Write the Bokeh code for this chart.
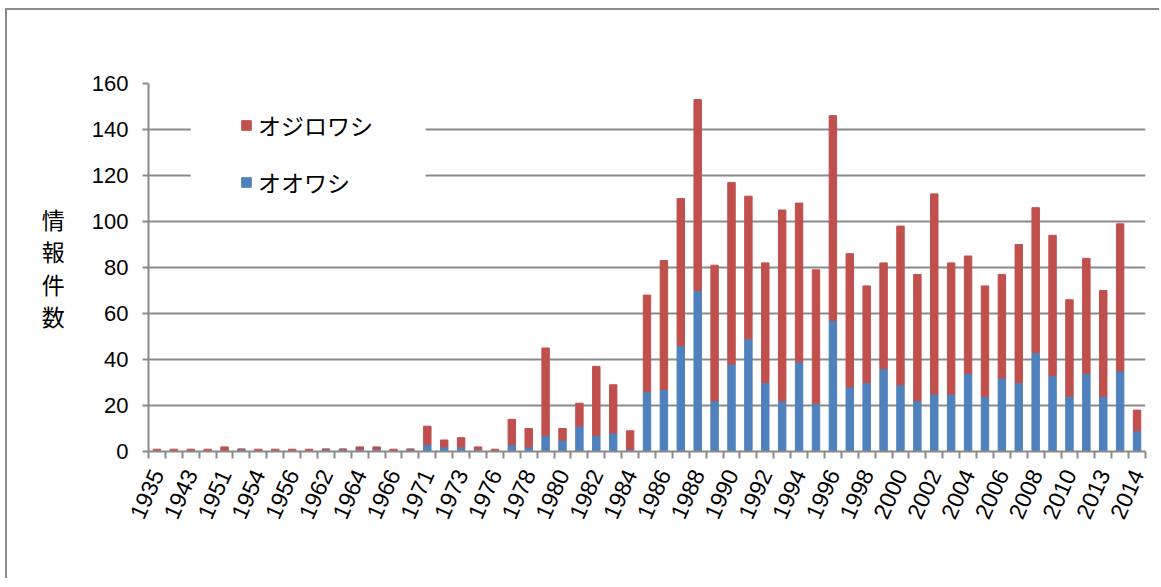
from bokeh.plotting import figure
from bokeh.models import (ColumnDataSource, FixedTicker, Legend, LegendItem,
                          BoxAnnotation)
from bokeh.embed import file_html
from bokeh.resources import INLINE

# ---- data -------------------------------------------------------------
years = ["1935", "1942", "1943", "1950", "1951", "1953", "1954", "1955",
         "1956", "1961", "1962", "1963", "1964", "1965", "1966", "1970",
         "1971", "1972", "1973", "1975", "1976", "1977", "1978", "1979",
         "1980", "1981", "1982", "1983", "1984", "1985", "1986", "1987",
         "1988", "1989", "1990", "1991", "1992", "1993", "1994", "1995",
         "1996", "1997", "1998", "1999", "2000", "2001", "2002", "2003",
         "2004", "2005", "2006", "2007", "2008", "2009", "2010", "2011",
         "2013", "2013", "2014"]

# オオワシ (Steller's sea eagle)
oowashi = [0, 0, 0, 0, 0, 1, 0, 0, 0, 0, 1, 1, 1, 1, 0, 1,
           3, 2, 2, 1, 0, 3, 2, 7, 5, 11, 7, 8, 1, 26, 27, 46,
           70, 22, 38, 49, 30, 22, 39, 21, 57, 28, 30, 36, 29, 22, 25, 25,
           34, 24, 32, 30, 43, 33, 24, 34, 24, 35, 9]

# total reports per year
totals = [1, 1, 1, 1, 2, 1, 1, 1, 1, 1, 1, 1, 2, 2, 1, 1,
          11, 5, 6, 2, 1, 14, 10, 45, 10, 21, 37, 29, 9, 68, 83, 110,
          153, 81, 117, 111, 82, 105, 108, 79, 146, 86, 72, 82, 98, 77, 112, 82,
          85, 72, 77, 90, 106, 94, 66, 84, 70, 99, 18]

# オジロワシ (white-tailed eagle)
ojirowashi = [t - b for t, b in zip(totals, oowashi)]

y_ticks = [0, 20, 40, 60, 80, 100, 120, 140, 160]

# ---- figure -----------------------------------------------------------
RED = "#C0504D"
BLUE = "#4F81BD"
GRID = "#8A8A8A"

xs = list(range(1, len(years) + 1))
src = ColumnDataSource(dict(x=xs, oowashi=oowashi, ojirowashi=ojirowashi))

p = figure(width=1154, height=570, x_range=(0.5, len(years) + 0.5),
           y_range=(0, 160), output_backend="svg", toolbar_location=None,
           min_border_left=141, min_border_right=16, min_border_top=73,
           min_border_bottom=129,
           styles={"margin-left": "5px", "margin-top": "8px",
                   "border-left": "2px solid #8A8A8A",
                   "border-top": "2px solid #8A8A8A"})
p.outline_line_color = None
p.background_fill_color = "white"
p.border_fill_color = "white"

rs = p.vbar_stack(["oowashi", "ojirowashi"], x="x", width=0.44,
                  color=[BLUE, RED], source=src)

# y axis
p.yaxis.ticker = FixedTicker(ticks=y_ticks)
p.yaxis.axis_line_color = GRID
p.yaxis.axis_line_width = 2
p.yaxis.major_tick_line_color = GRID
p.yaxis.major_tick_line_width = 2
p.yaxis.major_tick_out = 6
p.yaxis.major_tick_in = 0
p.yaxis.minor_tick_line_color = None
p.yaxis.major_label_text_font = "Liberation Sans"
p.yaxis.major_label_text_font_size = "22px"
p.yaxis.major_label_text_color = "black"
p.yaxis.major_label_standoff = 14
p.yaxis.axis_label = "情\n報\n件\n数"
p.yaxis.axis_label_orientation = "horizontal"
p.yaxis.axis_label_text_font = "Noto Sans CJK JP"
p.yaxis.axis_label_text_font_size = "23px"
p.yaxis.axis_label_text_font_style = "normal"
p.yaxis.axis_label_text_color = "black"
p.yaxis.axis_label_text_line_height = 0.95
p.yaxis.axis_label_standoff = 24

# x axis: labels on every other bar, tick marks between bars
p.xaxis.ticker = FixedTicker(ticks=xs[::2],
                             minor_ticks=[i + 0.5 for i in range(0, len(years) + 1)])
p.xaxis.major_label_overrides = {x: years[x - 1] for x in xs[::2]}
p.xaxis.axis_line_color = GRID
p.xaxis.axis_line_width = 2
p.xaxis.major_tick_line_color = None
p.xaxis.major_tick_out = 0
p.xaxis.major_tick_in = 0
p.xaxis.minor_tick_line_color = GRID
p.xaxis.minor_tick_line_width = 2
p.xaxis.minor_tick_out = 7
p.xaxis.minor_tick_in = 0
p.xaxis.major_label_orientation = 1.15
p.xaxis.major_label_text_font = "Liberation Sans"
p.xaxis.major_label_text_font_size = "23px"
p.xaxis.major_label_text_color = "black"
p.xaxis.major_label_standoff = 12

p.xgrid.visible = False
p.ygrid.ticker = FixedTicker(ticks=y_ticks)
p.ygrid.grid_line_color = GRID
p.ygrid.grid_line_width = 2

# white backdrop behind the legend (hides grid lines like the original)
p.add_layout(BoxAnnotation(left=3.0, right=16.9, bottom=106, top=152,
                           fill_color="white", fill_alpha=1.0,
                           line_color=None, level="underlay"))

legend = Legend(items=[LegendItem(label="オジロワシ", renderers=[rs[1]]),
                       LegendItem(label="オオワシ", renderers=[rs[0]])],
                location=(92, 252), orientation="vertical")
legend.label_text_font = "Noto Sans CJK JP"
legend.label_text_font_size = "23px"
legend.label_text_color = "black"
legend.glyph_width = 12
legend.glyph_height = 12
legend.label_standoff = 6
legend.spacing = 23
legend.padding = 0
legend.margin = 0
legend.border_line_color = None
legend.background_fill_alpha = 0
p.add_layout(legend)

open("out.html", "w").write(file_html(p, INLINE))
